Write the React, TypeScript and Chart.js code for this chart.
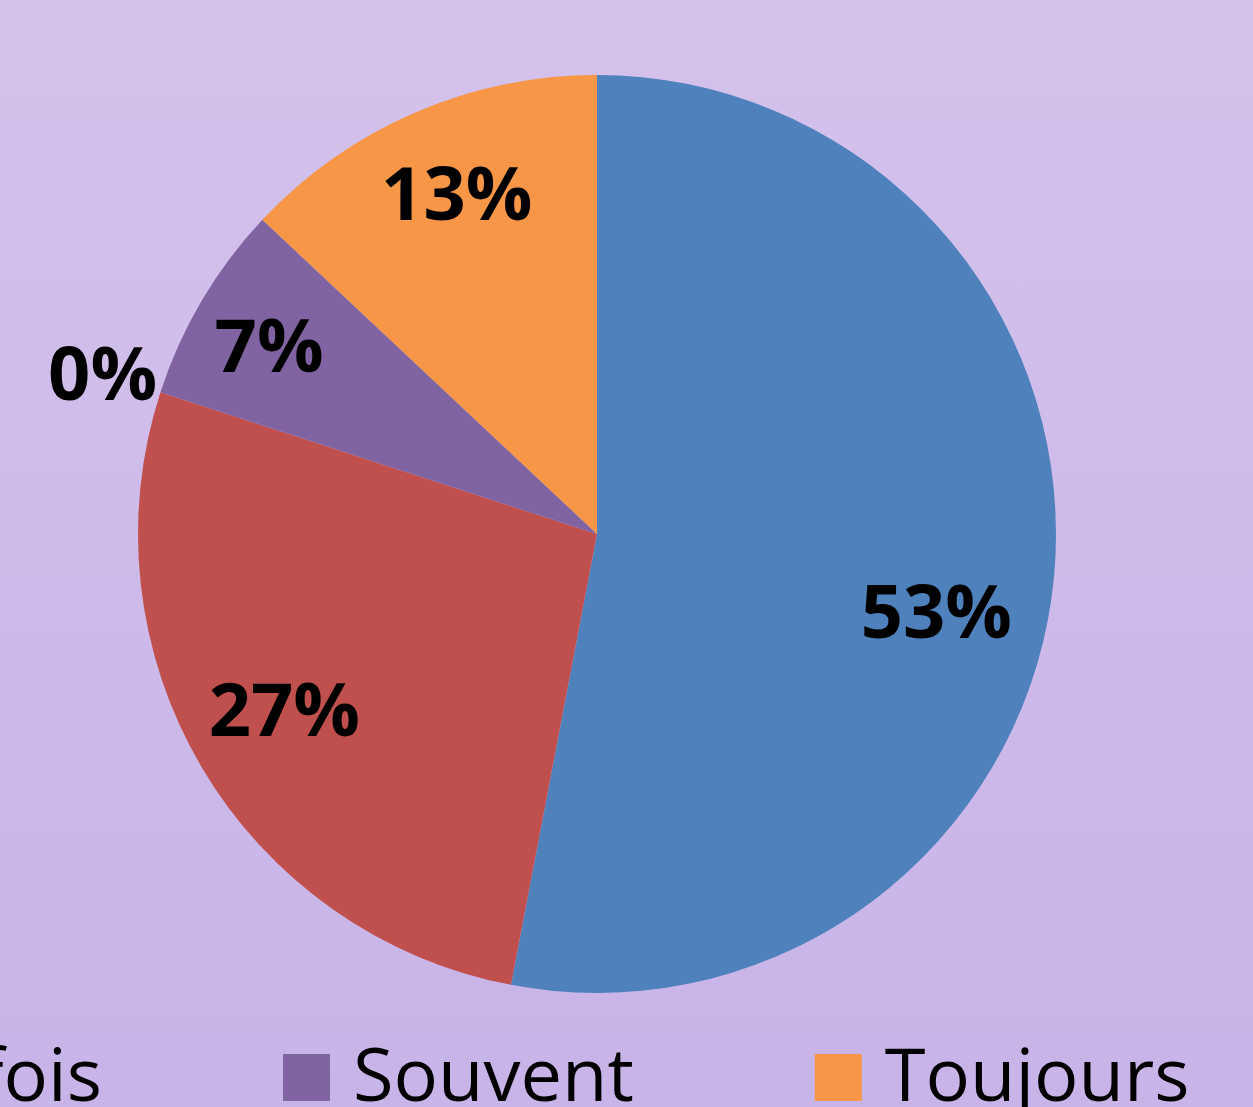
import React, { useEffect, useRef } from "react";
import { Chart, registerables } from "chart.js";

Chart.register(...registerables);

const categories = ["Jamais", "Rarement", "Parfois", "Souvent", "Toujours"];
const responses = [53, 27, 0, 7, 13];
const sliceColors = ["#4F81BD", "#C0504D", "#9BBB59", "#8064A2", "#F79646"];
// label placement relative to each slice: fraction of radius, angle shift (deg)
const labelRadiusFrac = [0.76, 0.785, 1.13, 0.82, 0.795];
const labelAngleShift = [8, 0.8, -0.4, -1.2, 0.8];

const W = 1253;
const H = 1107;

const pctLabelsPlugin = {
  id: "pctLabels",
  afterDatasetsDraw(chart: any) {
    const ctx = chart.ctx;
    const meta = chart.getDatasetMeta(0);
    const data = chart.data.datasets[0].data as number[];
    const total = data.reduce((a: number, b: number) => a + b, 0);
    ctx.save();
    ctx.fillStyle = "#000000";
    ctx.font = "bold 74px 'Open Sans'";
    ctx.textAlign = "center";
    ctx.textBaseline = "middle";
    meta.data.forEach((arc: any, i: number) => {
      const p = arc.getProps(["x", "y", "startAngle", "endAngle", "outerRadius"], true);
      const mid = (p.startAngle + p.endAngle) / 2 + (labelAngleShift[i] * Math.PI) / 180;
      const r = p.outerRadius * labelRadiusFrac[i];
      const txt = Math.round((data[i] / total) * 100) + "%";
      ctx.fillText(txt, p.x + Math.cos(mid) * r, p.y + Math.sin(mid) * r + 2);
    });
    ctx.restore();
  },
};

const legendRowPlugin = {
  id: "legendRow",
  afterDraw(chart: any) {
    const ctx = chart.ctx;
    const labels = chart.data.labels as string[];
    const colors = chart.data.datasets[0].backgroundColor as string[];
    const box = 47;
    const boxGap = 23;
    const itemGap = 181;
    const anchorIndex = 3;
    const anchorX = 283;
    const baseline = 1101;
    ctx.save();
    ctx.font = "74px 'Open Sans'";
    const widths = labels.map((l) => ctx.measureText(l).width);
    const xs: number[] = [];
    xs[anchorIndex] = anchorX;
    for (let i = anchorIndex + 1; i < labels.length; i++) {
      xs[i] = xs[i - 1] + box + boxGap + widths[i - 1] + itemGap;
    }
    for (let i = anchorIndex - 1; i >= 0; i--) {
      xs[i] = xs[i + 1] - itemGap - widths[i] - boxGap - box;
    }
    ctx.textBaseline = "alphabetic";
    ctx.textAlign = "left";
    labels.forEach((l, i) => {
      ctx.fillStyle = colors[i];
      ctx.fillRect(xs[i], baseline - box, box, box);
      ctx.fillStyle = "#000000";
      ctx.fillText(l, xs[i] + box + boxGap, baseline);
    });
    ctx.restore();
  },
};

export default function App() {
  const ref = useRef<HTMLCanvasElement | null>(null);
  useEffect(() => {
    if (!ref.current) return;
    const chart = new Chart(ref.current, {
      type: "pie",
      data: {
        labels: categories,
        datasets: [
          {
            data: responses,
            backgroundColor: sliceColors,
            borderWidth: 0,
          },
        ],
      },
      options: {
        responsive: false,
        animation: false,
        layout: { padding: { top: 75, bottom: 114, left: 0, right: 59 } },
        plugins: {
          legend: { display: false },
          tooltip: { enabled: false },
        },
      },
      plugins: [pctLabelsPlugin, legendRowPlugin],
    });
    return () => chart.destroy();
  }, []);
  return (
    <div
      style={{
        position: "fixed",
        left: 0,
        top: 0,
        width: W,
        height: H,
        overflow: "hidden",
        background: "linear-gradient(to bottom, #D4C2EC 0%, #C8B4E8 100%)",
      }}
    >
      <canvas ref={ref} width={W} height={H} style={{ display: "block" }} />
    </div>
  );
}
